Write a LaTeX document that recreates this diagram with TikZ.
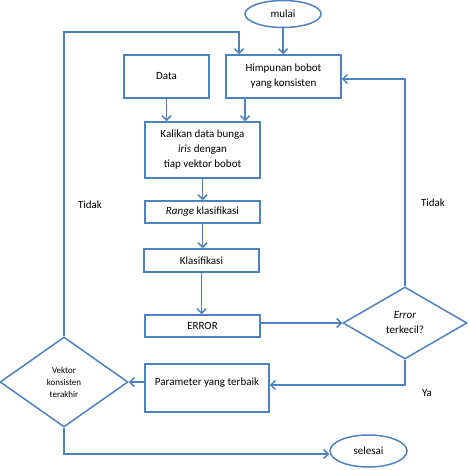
\documentclass[tikz,border=0pt]{standalone}
\usepackage{fontspec}
\setmainfont{Carlito}
\usepackage{tikz}
\usetikzlibrary{shapes.geometric,arrows.meta}
\definecolor{flowblue}{RGB}{79,129,189}
\begin{document}
\begin{tikzpicture}[x=1pt,y=-1pt,
  proses/.style={draw=flowblue,line width=1.5pt,rectangle,inner sep=0pt,align=center,font=\fontsize{11}{15}\selectfont},
  ujung/.style={draw=flowblue,line width=1.5pt,ellipse,inner sep=0pt,font=\fontsize{11}{13}\selectfont},
  keputusan/.style={draw=flowblue,line width=1.5pt,diamond,inner sep=0pt,align=center},
  panah/.style={draw=flowblue,line width=1.5pt,-{Straight Barb[length=4.5pt,width=9pt]}},
  ket/.style={font=\fontsize{11}{13}\selectfont}]
\useasboundingbox (0,0) rectangle (468,470);
%Nodes
\node[ujung,minimum width=76pt,minimum height=27pt] (mulai) at (283,14) {mulai};
\node[proses,minimum width=85pt,minimum height=43pt] (data) at (166.5,76.5) {Data};
\node[proses,minimum width=115pt,minimum height=43pt] (himp) at (283.5,76.5) {Himpunan bobot\\yang konsisten};
\node[proses,minimum width=115pt,minimum height=56pt] (kali) at (202.5,150) {Kalikan data bunga\\\textit{iris} dengan\\tiap vektor bobot};
\node[proses,minimum width=115pt,minimum height=22pt] (range) at (202.5,212) {\textit{Range} klasifikasi};
\node[proses,minimum width=115pt,minimum height=23pt] (klas) at (201.5,260.5) {Klasifikasi};
\node[proses,minimum width=115pt,minimum height=22pt] (err) at (202.5,326) {ERROR};
\node[keputusan,minimum width=124pt,minimum height=72pt,font=\fontsize{11}{15}\selectfont] (errd) at (405,323) {\textit{Error}\\terkecil?};
\node[proses,minimum width=124pt,minimum height=48pt,text depth=13pt] (param) at (207,388) {Parameter yang terbaik};
\node[keputusan,minimum width=128pt,minimum height=90pt,font=\fontsize{9}{12}\selectfont] (vektor) at (64,382) {Vektor\\konsisten\\terakhir};
\node[ujung,minimum width=77pt,minimum height=32pt] (selesai) at (368.5,451) {selesai};
%Connectors
\coordinate (kiriatas) at (239,32);
\coordinate (himpbawah) at (245,98);
\draw[panah] (mulai.south) -- (mulai.south |- himp.north);
\draw[panah] (vektor.north) |- (kiriatas) -- (kiriatas |- himp.north);
\draw[panah] (data.south) -- (data.south |- kali.north);
\draw[panah] (himpbawah) -- (himpbawah |- kali.north);
\draw[panah] (kali) -- (range);
\draw[panah] (range) -- (range |- klas.north);
\draw[panah] (klas) -- (klas |- err.north);
\draw[panah] (errd.west -| err.east) -- (errd.west);
\draw[panah] (errd.north) |- ([yshift=-2.5pt]himp.east);
\draw[panah] (errd.south) |- ([yshift=3pt]param.east);
\draw[panah] (vektor.east -| param.west) -- (vektor.east);
\draw[panah] (vektor.south) |- ([yshift=-3pt]selesai.west);
%Text
\node[ket] (tidak1) at (90,205) {Tidak};
\node[ket] (tidak2) at (433,203) {Tidak};
\node[ket] (ya) at (427,393) {Ya};
\end{tikzpicture}
\end{document}
